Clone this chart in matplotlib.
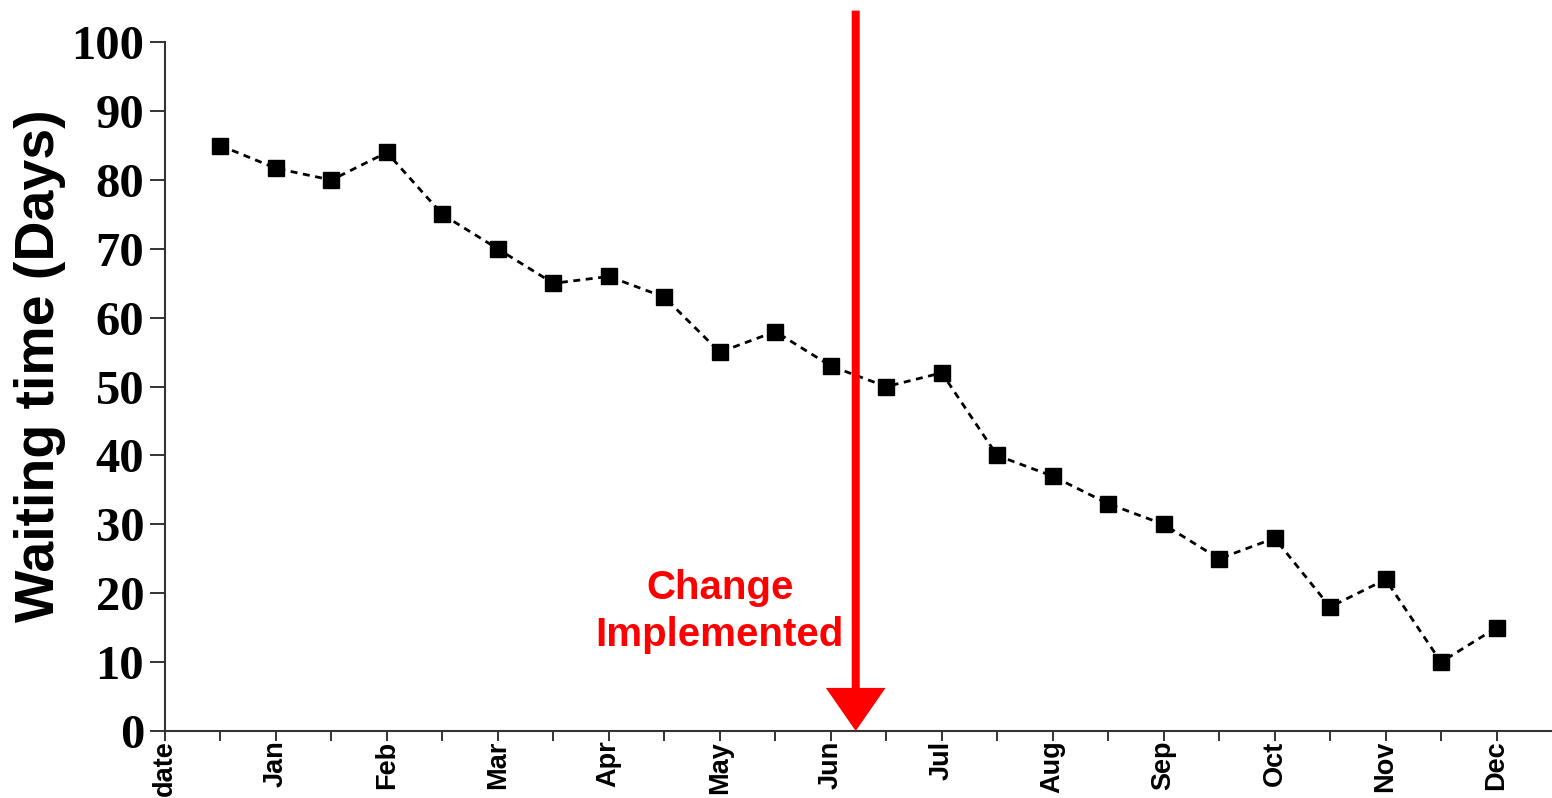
import matplotlib
matplotlib.use("Agg")
import matplotlib.pyplot as plt
from matplotlib.ticker import FixedLocator

# data
month_labels = ['date', 'Jan', 'Feb', 'Mar', 'Apr', 'May', 'Jun',
                'Jul', 'Aug', 'Sep', 'Oct', 'Nov', 'Dec']
point_pos = list(range(1, 25))  # half-month steps, label every 2 steps
wait_days = [85, 81.7, 80, 84, 75, 70, 65, 66, 63, 55, 58, 53,
             50, 52, 40, 37, 33, 30, 25, 28, 18, 22, 10, 15]
change_x = 12.45
change_text = 'Change\nImplemented'

fig = plt.figure(figsize=(15.52, 7.98), dpi=100)
ax = fig.add_axes([0.1063, 0.084, 0.8937, 0.863])

ax.plot(point_pos, wait_days, color='black', lw=2.0, ls=(0, (2.5, 2)),
        marker='s', ms=12, mfc='black', mec='black', zorder=3)

ax.set_xlim(0, 25)
ax.set_ylim(0, 100)

ax.xaxis.set_major_locator(FixedLocator(range(0, 25, 2)))
ax.xaxis.set_minor_locator(FixedLocator(range(1, 25, 2)))
ax.set_xticklabels(month_labels, rotation=90, fontsize=19.5,
                   fontweight='bold', family='Liberation Sans', va='top')
ax.set_yticks(range(0, 101, 10))
ax.set_yticklabels([str(v) for v in range(0, 101, 10)], fontsize=35,
                   fontweight='bold', family='Liberation Serif')

ax.tick_params(axis='x', which='both', length=7, width=1.4, pad=0,
               color='#333333')
ax.tick_params(axis='y', length=11, width=1.4, pad=4, color='#333333')

for s in ['top', 'right']:
    ax.spines[s].set_visible(False)
for s in ['left', 'bottom']:
    ax.spines[s].set_linewidth(1.5)
    ax.spines[s].set_color('#333333')

ax.set_ylabel('Waiting time (Days)', fontsize=40, fontweight='bold',
              family='Liberation Sans')
ax.yaxis.set_label_coords(-0.071, 0.53)

# red arrow marking the change
ax.annotate('', xy=(change_x, 0), xytext=(change_x, 104.6),
            annotation_clip=False,
            arrowprops=dict(arrowstyle='simple,head_length=31,head_width=43,tail_width=5.8',
                            mutation_scale=1, fc='#ff0000', ec='none', lw=0,
                            shrinkA=0, shrinkB=0))
ax.text(change_x - 2.45, 17.3, change_text, color='#ff0000', fontsize=29,
        fontweight='bold', family='Liberation Sans', ha='center',
        va='center', linespacing=1.3)

fig.savefig('out.png', dpi=100)
